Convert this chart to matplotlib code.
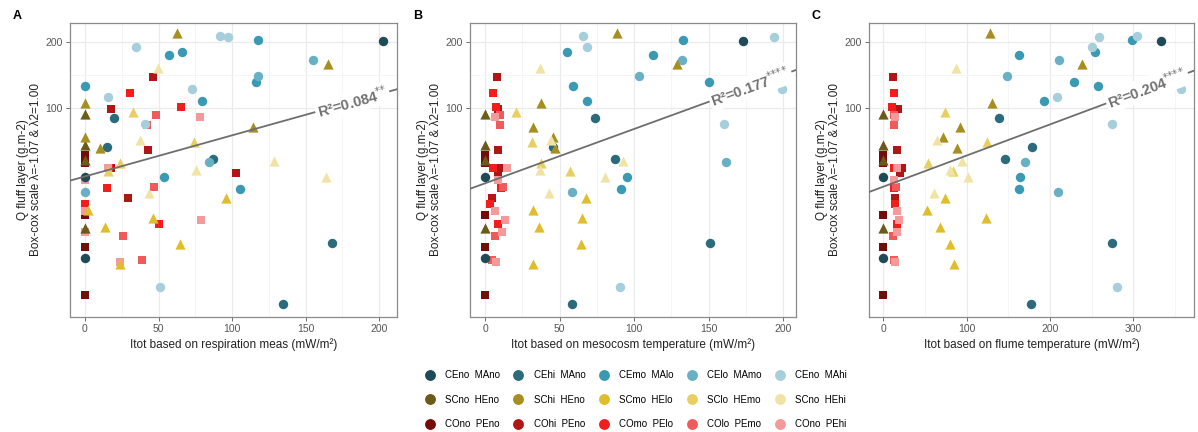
import numpy as np
import matplotlib
matplotlib.use('Agg')  # no display
import matplotlib.pyplot as plt
from matplotlib.lines import Line2D

plt.rcParams['font.family'] = ['Liberation Sans', 'DejaVu Sans']

# treatment groups, legend order (rows: CE, SC, CO)
groups = ['CEno  MAno', 'CEhi  MAno', 'CEmo  MAlo', 'CElo  MAmo', 'CEno  MAhi',
          'SCno  HEno', 'SChi  HEno', 'SCmo  HElo', 'SClo  HEmo', 'SCno  HEhi',
          'COno  PEno', 'COhi  PEno', 'COmo  PElo', 'COlo  PEmo', 'COno  PEhi']
colors = ['#1f4a57', '#2a6b7c', '#3a9ab3', '#6ab0c5', '#a6cfdb',
          '#6b5a18', '#a68e20', '#e0bd2c', '#e9cf62', '#f1e3a6',
          '#760b0b', '#b01616', '#f21e1e', '#f05a5a', '#f59a9a']

# Q fluff layer (g.m-2), one value per sample
q_fluff = {
    'CEno  MAno': [201, 21.0, 49.1],
    'CEhi  MAno': [90.7, 67.1, 58.8, 24.7, 13.1],
    'CEmo  MAlo': [204, 180, 174, 131, 126, 108, 49.1, 43.2],
    'CElo  MAmo': [166, 140, 57.4, 42.0],
    'CEno  MAhi': [212, 211, 189, 122, 112, 84.9, 15.6],
    'SCno  HEno': [93.9, 68.3, 58.4, 28.7],
    'SChi  HEno': [218, 159, 106, 82.6, 73.9, 66.4],
    'SCmo  HElo': [39.2, 34.7, 31.8, 29.0, 24.3, 19.8],
    'SClo  HEmo': [96.5, 70.7, 56.8, 52.2],
    'SCno  HEhi': [152, 71.9, 58.0, 52.6, 48.7, 41.5],
    'COno  PEno': [14.3, 23.5, 33.0, 56.4, 61.5],
    'COhi  PEno': [138, 99, 64.8, 53.5, 50.8, 39.2],
    'COmo  PElo': [117, 101, 53.5, 43.5, 36.9, 29.9],
    'COlo  PEmo': [93.3, 84.0, 44.2, 26.5, 20.6],
    'COno  PEhi': [91.7, 53.5, 47.4, 34.5, 31.3, 27.7, 20.3],
}

# Itot based on respiration meas (mW/m2)
itot_resp = {
    'CEno  MAno': [202.5, 0, 0],
    'CEhi  MAno': [19.9, 14.7, 86.9, 168, 134.9],
    'CEmo  MAlo': [117.9, 65.8, 57.3, 116.6, 0, 79.4, 54, 105.4],
    'CElo  MAmo': [154.9, 117.5, 84.6, 0],
    'CEno  MAhi': [91.8, 97.5, 34.7, 72.6, 15.9, 40.8, 51],
    'SCno  HEno': [0, 0, 0, 0],
    'SChi  HEno': [62.4, 165.5, 0, 114.5, 0, 10.2],
    'SCmo  HElo': [95.9, 2, 46, 13.6, 64.6, 23.8],
    'SClo  HEmo': [32.4, 74.4, 23.8, 15.9],
    'SCno  HEhi': [49.9, 37.4, 128.6, 75.5, 163.7, 43.5],
    'COno  PEno': [0, 0, 0, 0, 0],
    'COhi  PEno': [46.5, 17.7, 42.6, 18, 103, 29.5],
    'COmo  PElo': [30.6, 65.3, 16, 15.2, 0, 50.6],
    'COlo  PEmo': [48.3, 42, 46.9, 25.6, 38.5],
    'COno  PEhi': [78.2, 15.6, 0, 0, 78.9, 0, 23.8],
}

# Itot based on mesocosm temperature (mW/m2)
itot_meso = {
    'CEno  MAno': [173.4, 0, 0],
    'CEhi  MAno': [73.8, 45.8, 87.2, 151, 58.2],
    'CEmo  MAlo': [132.7, 54.8, 112.5, 150.5, 59.3, 68.3, 95.5, 91.3],
    'CElo  MAmo': [132, 103.6, 162, 58.2],
    'CEno  MAhi': [65.5, 194, 68.7, 199.5, 157.3, 160.4, 90.6],
    'SCno  HEno': [0, 0, 0, 0],
    'SChi  HEno': [88.4, 128.6, 37.4, 32, 45.8, 47],
    'SCmo  HElo': [67.8, 32.4, 64.9, 36.4, 64.4, 32.4],
    'SClo  HEmo': [20.6, 31.8, 37.4, 57],
    'SCno  HEhi': [36.9, 44, 92.4, 37, 80.5, 43],
    'COno  PEno': [0, 0, 0, 0, 0],
    'COhi  PEno': [8.3, 8.5, 8.9, 10, 9, 4.5],
    'COmo  PElo': [5.2, 7.4, 5.6, 10.6, 3.6, 8.7],
    'COlo  PEmo': [10, 10, 12, 6.9, 5],
    'COno  PEhi': [7, 14.5, 9, 6.9, 13.6, 11.4, 7.2],
}

# Itot based on flume temperature (mW/m2)
itot_flume = {
    'CEno  MAno': [333, 0, 0],
    'CEhi  MAno': [139, 179, 146, 274, 177],
    'CEmo  MAlo': [299, 254, 163, 229, 258, 193, 164, 163],
    'CElo  MAmo': [211, 149, 170, 210],
    'CEno  MAhi': [304, 259, 251, 357, 208, 275, 280],
    'SCno  HEno': [0, 0, 0, 0],
    'SChi  HEno': [128, 239, 130, 92, 72, 89],
    'SCmo  HElo': [74, 53, 123, 68, 80, 85],
    'SClo  HEmo': [74, 124, 54, 84],
    'SCno  HEhi': [87.3, 65, 94, 80, 102, 61],
    'COno  PEno': [0, 0, 0, 0, 0],
    'COhi  PEno': [12, 18, 16.5, 22, 20, 14],
    'COmo  PElo': [12.8, 10, 13, 12.7, 14, 17],
    'COlo  PEmo': [13, 13, 15, 11.4, 13],
    'COno  PEhi': [14, 16, 13, 17, 19, 16, 14],
}

panels = [
    ('A', itot_resp, 'Itot based on respiration meas (mW/m²)', 'R²=0.084', '**',
     (-10.2, 212.2), [0, 50, 100, 150, 200], [25, 75, 125, 175], 158),
    ('B', itot_meso, 'Itot based on mesocosm temperature (mW/m²)', 'R²=0.177', '****',
     (-10.1, 208.7), [0, 50, 100, 150, 200], [25, 75, 125, 175], 152),
    ('C', itot_flume, 'Itot based on flume temperature (mW/m²)', 'R²=0.204', '****',
     (-17.2, 373), [0, 100, 200, 300], [50, 150, 250, 350], 270),
]

def marker_for(g):
    return {'CE': 'o', 'SC': '^', 'CO': 's'}[g[:2]]

def size_for(g):
    return {'CE': 46, 'SC': 54, 'CO': 38}[g[:2]]

draw_order = groups[10:] + groups[:5] + groups[5:10]

fig = plt.figure(figsize=(11.98, 4.32), dpi=100, facecolor='white')
lefts = [70, 470, 869]
widths = [327, 326, 325]

for (letter, xdata, xlabel, r2, stars, xlim, xt, xminor, lab_x), l, w in zip(panels, lefts, widths):
    ax = fig.add_axes([l / 1198, (432 - 316.7) / 432, w / 1198, 294 / 432])
    ax.set_yscale('log')
    ax.set_ylim(11.43, 243.7)
    ax.set_xlim(*xlim)

    # grid
    for v in xt:
        ax.axvline(v, color='#ebebeb', lw=0.9, zorder=0)
    for v in xminor:
        ax.axvline(v, color='#f4f4f4', lw=0.6, zorder=0)
    for v in [100, 200]:
        ax.axhline(v, color='#ebebeb', lw=0.9, zorder=0)
    ax.axhline(np.sqrt(100 * 200), color='#f4f4f4', lw=0.6, zorder=0)

    allx, ally = [], []
    for g in draw_order:
        c = colors[groups.index(g)]
        ax.scatter(xdata[g], q_fluff[g], s=size_for(g), marker=marker_for(g),
                   color=c, linewidths=0, zorder=2)
        allx += xdata[g]
        ally += q_fluff[g]

    # linear fit in transformed space
    slope, icpt = np.polyfit(np.array(allx), np.log(np.array(ally)), 1)
    xx = np.array(xlim)
    ax.plot(xx, np.exp(icpt + slope * xx), color='#6e6e6e', lw=1.3, zorder=3)

    # label angle in display space
    fig.canvas.draw()
    p1 = ax.transData.transform((xx[0], np.exp(icpt + slope * xx[0])))
    p2 = ax.transData.transform((xx[1], np.exp(icpt + slope * xx[1])))
    ang = np.degrees(np.arctan2(p2[1] - p1[1], p2[0] - p1[0]))
    ax.text(lab_x, np.exp(icpt + slope * lab_x), r2 + r'$^{\text{' + stars + '}}$',
            rotation=ang, rotation_mode='anchor', ha='left', va='center',
            fontsize=10.5, fontweight='bold', color='#707070', zorder=4,
            bbox=dict(facecolor='white', edgecolor='none', pad=1.5))

    ax.set_xticks(xt)
    ax.set_xticklabels([str(v) for v in xt])
    ax.set_yticks([100, 200])
    ax.set_yticklabels(['100', '200'])
    ax.yaxis.set_minor_locator(matplotlib.ticker.NullLocator())
    ax.tick_params(axis='both', which='major', labelsize=7.5, colors='#555555',
                   length=3, width=0.6, pad=2)
    for sp in ax.spines.values():
        sp.set_color('#8a8a8a')
        sp.set_linewidth(0.9)

    ax.set_xlabel(xlabel, fontsize=8.5, color='#222222', labelpad=3)
    ax.set_ylabel('Q fluff layer (g.m-2)\nBox-cox scale λ=-1.07 & λ2=1.00',
                  fontsize=8.5, color='#222222', labelpad=3, linespacing=1.1)
    fig.text((l - 57) / 1198, 1 - 16 / 432, letter, fontsize=9, fontweight='bold',
             va='center', ha='left')

# legend: column-major so each row is one family
handles = []
for col in range(5):
    for row in range(3):
        i = row * 5 + col
        handles.append(Line2D([], [], marker='o', ls='', color=colors[i],
                              markersize=6.8, label=groups[i]))
fig.legend(handles=handles, ncol=5, loc='upper left',
           bbox_to_anchor=(425 / 1198, 1 - 370 / 432), frameon=False,
           fontsize=7, handlelength=1.0, handletextpad=1.1,
           columnspacing=1.35, labelspacing=1.5, borderpad=0, borderaxespad=0)

fig.savefig('out.png', dpi=100, facecolor='white')
